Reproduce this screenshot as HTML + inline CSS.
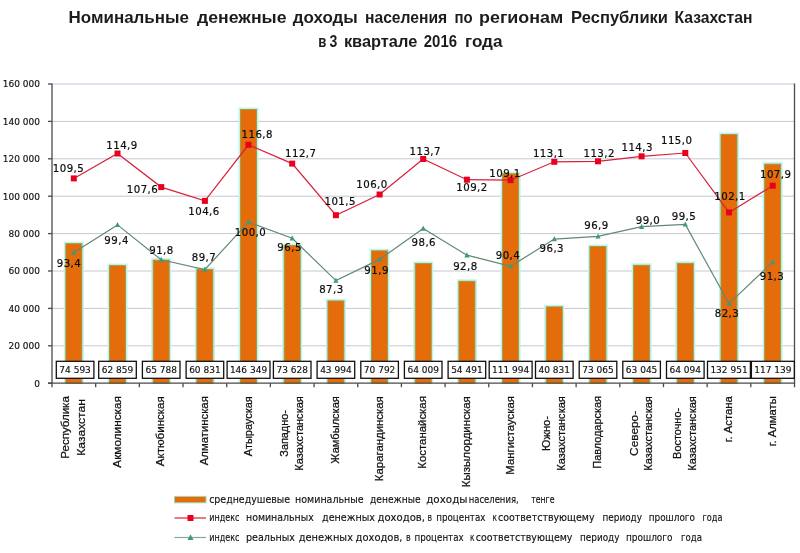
<!DOCTYPE html>
<html lang="ru"><head><meta charset="utf-8"><title>Номинальные денежные доходы населения</title>
<style>html,body{margin:0;padding:0;background:#fff}svg{display:block}</style></head>
<body>
<svg width="800" height="553" viewBox="0 0 800 553">
<rect x="0" y="0" width="800" height="553" fill="#ffffff"/>
<g font-family="Liberation Sans, DejaVu Sans, sans-serif" font-weight="bold" font-size="16.6" fill="#1c1c1c" transform="translate(-1,0)">
<text x="69.5" y="23.2" textLength="120.5" lengthAdjust="spacingAndGlyphs">Номинальные</text>
<text x="198.0" y="23.2" textLength="89.5" lengthAdjust="spacingAndGlyphs">денежные</text>
<text x="293.8" y="23.2" textLength="65.0" lengthAdjust="spacingAndGlyphs">доходы</text>
<text x="366.0" y="23.2" textLength="82.2" lengthAdjust="spacingAndGlyphs">населения</text>
<text x="455.4" y="23.2" textLength="18.2" lengthAdjust="spacingAndGlyphs">по</text>
<text x="480.0" y="23.2" textLength="84.3" lengthAdjust="spacingAndGlyphs">регионам</text>
<text x="572.1" y="23.2" textLength="96.9" lengthAdjust="spacingAndGlyphs">Республики</text>
<text x="675.5" y="23.2" textLength="78.0" lengthAdjust="spacingAndGlyphs">Казахстан</text>
<text x="319.2" y="46.5" textLength="8.1" lengthAdjust="spacingAndGlyphs">в</text>
<text x="330.6" y="46.5" textLength="7.8" lengthAdjust="spacingAndGlyphs">3</text>
<text x="344.9" y="46.5" textLength="73.4" lengthAdjust="spacingAndGlyphs">квартале</text>
<text x="424.8" y="46.5" textLength="33.2" lengthAdjust="spacingAndGlyphs">2016</text>
<text x="466.0" y="46.5" textLength="37.5" lengthAdjust="spacingAndGlyphs">года</text>
</g>
<g stroke="#c6c8d4" stroke-width="1">
<line x1="52.0" y1="345.80" x2="794.5" y2="345.80"/>
<line x1="52.0" y1="308.40" x2="794.5" y2="308.40"/>
<line x1="52.0" y1="271.00" x2="794.5" y2="271.00"/>
<line x1="52.0" y1="233.60" x2="794.5" y2="233.60"/>
<line x1="52.0" y1="196.20" x2="794.5" y2="196.20"/>
<line x1="52.0" y1="158.80" x2="794.5" y2="158.80"/>
<line x1="52.0" y1="121.40" x2="794.5" y2="121.40"/>
</g>
<line x1="52.0" y1="84.00" x2="794.5" y2="84.00" stroke="#c3c6e0" stroke-width="1.2"/>
<g>
<rect x="63.84" y="241.71" width="20.00" height="141.49" fill="#bff4ec"/>
<rect x="65.84" y="243.71" width="16.00" height="139.49" fill="#e46c0a" stroke="#a39a3c" stroke-width="0.9"/>
<rect x="107.51" y="263.65" width="20.00" height="119.55" fill="#bff4ec"/>
<rect x="109.51" y="265.65" width="16.00" height="117.55" fill="#e46c0a" stroke="#a39a3c" stroke-width="0.9"/>
<rect x="151.19" y="258.18" width="20.00" height="125.02" fill="#bff4ec"/>
<rect x="153.19" y="260.18" width="16.00" height="123.02" fill="#e46c0a" stroke="#a39a3c" stroke-width="0.9"/>
<rect x="194.87" y="267.45" width="20.00" height="115.75" fill="#bff4ec"/>
<rect x="196.87" y="269.45" width="16.00" height="113.75" fill="#e46c0a" stroke="#a39a3c" stroke-width="0.9"/>
<rect x="238.54" y="107.53" width="20.00" height="275.67" fill="#bff4ec"/>
<rect x="240.54" y="109.53" width="16.00" height="273.67" fill="#e46c0a" stroke="#a39a3c" stroke-width="0.9"/>
<rect x="282.22" y="243.52" width="20.00" height="139.68" fill="#bff4ec"/>
<rect x="284.22" y="245.52" width="16.00" height="137.68" fill="#e46c0a" stroke="#a39a3c" stroke-width="0.9"/>
<rect x="325.90" y="298.93" width="20.00" height="84.27" fill="#bff4ec"/>
<rect x="327.90" y="300.93" width="16.00" height="82.27" fill="#e46c0a" stroke="#a39a3c" stroke-width="0.9"/>
<rect x="369.57" y="248.82" width="20.00" height="134.38" fill="#bff4ec"/>
<rect x="371.57" y="250.82" width="16.00" height="132.38" fill="#e46c0a" stroke="#a39a3c" stroke-width="0.9"/>
<rect x="413.25" y="261.50" width="20.00" height="121.70" fill="#bff4ec"/>
<rect x="415.25" y="263.50" width="16.00" height="119.70" fill="#e46c0a" stroke="#a39a3c" stroke-width="0.9"/>
<rect x="456.93" y="279.30" width="20.00" height="103.90" fill="#bff4ec"/>
<rect x="458.93" y="281.30" width="16.00" height="101.90" fill="#e46c0a" stroke="#a39a3c" stroke-width="0.9"/>
<rect x="500.60" y="171.77" width="20.00" height="211.43" fill="#bff4ec"/>
<rect x="502.60" y="173.77" width="16.00" height="209.43" fill="#e46c0a" stroke="#a39a3c" stroke-width="0.9"/>
<rect x="544.28" y="304.85" width="20.00" height="78.35" fill="#bff4ec"/>
<rect x="546.28" y="306.85" width="16.00" height="76.35" fill="#e46c0a" stroke="#a39a3c" stroke-width="0.9"/>
<rect x="587.96" y="244.57" width="20.00" height="138.63" fill="#bff4ec"/>
<rect x="589.96" y="246.57" width="16.00" height="136.63" fill="#e46c0a" stroke="#a39a3c" stroke-width="0.9"/>
<rect x="631.63" y="263.31" width="20.00" height="119.89" fill="#bff4ec"/>
<rect x="633.63" y="265.31" width="16.00" height="117.89" fill="#e46c0a" stroke="#a39a3c" stroke-width="0.9"/>
<rect x="675.31" y="261.34" width="20.00" height="121.86" fill="#bff4ec"/>
<rect x="677.31" y="263.34" width="16.00" height="119.86" fill="#e46c0a" stroke="#a39a3c" stroke-width="0.9"/>
<rect x="718.99" y="132.58" width="20.00" height="250.62" fill="#bff4ec"/>
<rect x="720.99" y="134.58" width="16.00" height="248.62" fill="#e46c0a" stroke="#a39a3c" stroke-width="0.9"/>
<rect x="762.66" y="162.15" width="20.00" height="221.05" fill="#bff4ec"/>
<rect x="764.66" y="164.15" width="16.00" height="219.05" fill="#e46c0a" stroke="#a39a3c" stroke-width="0.9"/>
</g>
<g stroke="#4a4a4a" stroke-width="1.3">
<line x1="52.0" y1="83.5" x2="52.0" y2="387.2"/>
<line x1="794.5" y1="83.5" x2="794.5" y2="387.2"/>
<line x1="48.0" y1="383.2" x2="795.1" y2="383.2"/>
<line x1="48.0" y1="383.20" x2="52.0" y2="383.20"/>
<line x1="48.0" y1="345.80" x2="52.0" y2="345.80"/>
<line x1="48.0" y1="308.40" x2="52.0" y2="308.40"/>
<line x1="48.0" y1="271.00" x2="52.0" y2="271.00"/>
<line x1="48.0" y1="233.60" x2="52.0" y2="233.60"/>
<line x1="48.0" y1="196.20" x2="52.0" y2="196.20"/>
<line x1="48.0" y1="158.80" x2="52.0" y2="158.80"/>
<line x1="48.0" y1="121.40" x2="52.0" y2="121.40"/>
<line x1="48.0" y1="84.00" x2="52.0" y2="84.00"/>
<line x1="95.68" y1="383.2" x2="95.68" y2="387.2"/>
<line x1="139.35" y1="383.2" x2="139.35" y2="387.2"/>
<line x1="183.03" y1="383.2" x2="183.03" y2="387.2"/>
<line x1="226.71" y1="383.2" x2="226.71" y2="387.2"/>
<line x1="270.38" y1="383.2" x2="270.38" y2="387.2"/>
<line x1="314.06" y1="383.2" x2="314.06" y2="387.2"/>
<line x1="357.74" y1="383.2" x2="357.74" y2="387.2"/>
<line x1="401.41" y1="383.2" x2="401.41" y2="387.2"/>
<line x1="445.09" y1="383.2" x2="445.09" y2="387.2"/>
<line x1="488.76" y1="383.2" x2="488.76" y2="387.2"/>
<line x1="532.44" y1="383.2" x2="532.44" y2="387.2"/>
<line x1="576.12" y1="383.2" x2="576.12" y2="387.2"/>
<line x1="619.79" y1="383.2" x2="619.79" y2="387.2"/>
<line x1="663.47" y1="383.2" x2="663.47" y2="387.2"/>
<line x1="707.15" y1="383.2" x2="707.15" y2="387.2"/>
<line x1="750.82" y1="383.2" x2="750.82" y2="387.2"/>
</g>
<g font-family="DejaVu Sans, Liberation Sans, sans-serif" font-size="9" fill="#111" stroke="#111" stroke-width="0.15" text-anchor="end">
<text x="40" y="386.5">0</text>
<text x="40" y="349.1">20 000</text>
<text x="40" y="311.7">40 000</text>
<text x="40" y="274.3">60 000</text>
<text x="40" y="236.9">80 000</text>
<text x="40" y="199.5">100 000</text>
<text x="40" y="162.1">120 000</text>
<text x="40" y="124.7">140 000</text>
<text x="40" y="87.3">160 000</text>
</g>
<polyline points="73.8,252.5 117.5,224.9 161.2,259.8 204.9,269.5 248.5,222.1 292.2,238.2 335.9,280.6 379.6,259.4 423.2,228.5 466.9,255.2 510.6,266.3 554.3,239.1 598.0,236.4 641.6,226.7 685.3,224.4 729.0,303.6 772.7,262.1" fill="none" stroke="#628877" stroke-width="1.2"/>
<g fill="#3f9a79">
<polygon points="73.8,249.5 76.4,254.7 71.2,254.7"/>
<polygon points="117.5,221.9 120.1,227.1 114.9,227.1"/>
<polygon points="161.2,256.8 163.8,262.0 158.6,262.0"/>
<polygon points="204.9,266.5 207.5,271.7 202.3,271.7"/>
<polygon points="248.5,219.1 251.1,224.3 245.9,224.3"/>
<polygon points="292.2,235.2 294.8,240.4 289.6,240.4"/>
<polygon points="335.9,277.6 338.5,282.8 333.3,282.8"/>
<polygon points="379.6,256.4 382.2,261.6 377.0,261.6"/>
<polygon points="423.2,225.5 425.9,230.7 420.6,230.7"/>
<polygon points="466.9,252.2 469.5,257.4 464.3,257.4"/>
<polygon points="510.6,263.3 513.2,268.5 508.0,268.5"/>
<polygon points="554.3,236.1 556.9,241.3 551.7,241.3"/>
<polygon points="598.0,233.4 600.6,238.6 595.4,238.6"/>
<polygon points="641.6,223.7 644.2,228.9 639.0,228.9"/>
<polygon points="685.3,221.4 687.9,226.6 682.7,226.6"/>
<polygon points="729.0,300.6 731.6,305.8 726.4,305.8"/>
<polygon points="772.7,259.1 775.3,264.3 770.1,264.3"/>
</g>
<polyline points="73.8,178.4 117.5,153.5 161.2,187.1 204.9,200.9 248.5,144.8 292.2,163.6 335.9,215.2 379.6,194.5 423.2,159.0 466.9,179.7 510.6,180.2 554.3,161.8 598.0,161.3 641.6,156.3 685.3,153.0 729.0,212.4 772.7,185.7" fill="none" stroke="#d8203a" stroke-width="1.2"/>
<g fill="#e9001f">
<rect x="70.8" y="175.4" width="6" height="6"/>
<rect x="114.5" y="150.5" width="6" height="6"/>
<rect x="158.2" y="184.1" width="6" height="6"/>
<rect x="201.9" y="197.9" width="6" height="6"/>
<rect x="245.5" y="141.8" width="6" height="6"/>
<rect x="289.2" y="160.6" width="6" height="6"/>
<rect x="332.9" y="212.2" width="6" height="6"/>
<rect x="376.6" y="191.5" width="6" height="6"/>
<rect x="420.2" y="156.0" width="6" height="6"/>
<rect x="463.9" y="176.7" width="6" height="6"/>
<rect x="507.6" y="177.2" width="6" height="6"/>
<rect x="551.3" y="158.8" width="6" height="6"/>
<rect x="595.0" y="158.3" width="6" height="6"/>
<rect x="638.6" y="153.3" width="6" height="6"/>
<rect x="682.3" y="150.0" width="6" height="6"/>
<rect x="726.0" y="209.4" width="6" height="6"/>
<rect x="769.7" y="182.7" width="6" height="6"/>
</g>
<g>
<rect x="56.3" y="361.3" width="37.6" height="17" fill="#ffffff" stroke="#111" stroke-width="1.3"/>
<rect x="98.7" y="361.3" width="37.6" height="17" fill="#ffffff" stroke="#111" stroke-width="1.3"/>
<rect x="142.4" y="361.3" width="37.6" height="17" fill="#ffffff" stroke="#111" stroke-width="1.3"/>
<rect x="186.1" y="361.3" width="37.6" height="17" fill="#ffffff" stroke="#111" stroke-width="1.3"/>
<rect x="227.1" y="361.3" width="42.9" height="17" fill="#ffffff" stroke="#111" stroke-width="1.3"/>
<rect x="273.4" y="361.3" width="37.6" height="17" fill="#ffffff" stroke="#111" stroke-width="1.3"/>
<rect x="317.1" y="361.3" width="37.6" height="17" fill="#ffffff" stroke="#111" stroke-width="1.3"/>
<rect x="360.8" y="361.3" width="37.6" height="17" fill="#ffffff" stroke="#111" stroke-width="1.3"/>
<rect x="404.4" y="361.3" width="37.6" height="17" fill="#ffffff" stroke="#111" stroke-width="1.3"/>
<rect x="448.1" y="361.3" width="37.6" height="17" fill="#ffffff" stroke="#111" stroke-width="1.3"/>
<rect x="489.2" y="361.3" width="42.9" height="17" fill="#ffffff" stroke="#111" stroke-width="1.3"/>
<rect x="535.5" y="361.3" width="37.6" height="17" fill="#ffffff" stroke="#111" stroke-width="1.3"/>
<rect x="579.2" y="361.3" width="37.6" height="17" fill="#ffffff" stroke="#111" stroke-width="1.3"/>
<rect x="622.8" y="361.3" width="37.6" height="17" fill="#ffffff" stroke="#111" stroke-width="1.3"/>
<rect x="666.5" y="361.3" width="37.6" height="17" fill="#ffffff" stroke="#111" stroke-width="1.3"/>
<rect x="707.5" y="361.3" width="42.9" height="17" fill="#ffffff" stroke="#111" stroke-width="1.3"/>
<rect x="751.4" y="361.3" width="42.9" height="17" fill="#ffffff" stroke="#111" stroke-width="1.3"/>
</g>
<g font-family="DejaVu Sans, Liberation Sans, sans-serif" font-size="9" fill="#111" stroke="#111" stroke-width="0.15" text-anchor="middle">
<text x="75.1" y="372.6">74 593</text>
<text x="117.5" y="372.6">62 859</text>
<text x="161.2" y="372.6">65 788</text>
<text x="204.9" y="372.6">60 831</text>
<text x="248.5" y="372.6">146 349</text>
<text x="292.2" y="372.6">73 628</text>
<text x="335.9" y="372.6">43 994</text>
<text x="379.6" y="372.6">70 792</text>
<text x="423.2" y="372.6">64 009</text>
<text x="466.9" y="372.6">54 491</text>
<text x="510.6" y="372.6">111 994</text>
<text x="554.3" y="372.6">40 831</text>
<text x="598.0" y="372.6">73 065</text>
<text x="641.6" y="372.6">63 045</text>
<text x="685.3" y="372.6">64 094</text>
<text x="729.0" y="372.6">132 951</text>
<text x="772.8" y="372.6">117 139</text>
</g>
<g font-family="DejaVu Sans, Liberation Sans, sans-serif" font-size="10.2" letter-spacing="0.45" fill="#0c0c0c" stroke="#0c0c0c" stroke-width="0.2" text-anchor="middle">
<text x="68.5" y="172.0">109,5</text>
<text x="122.0" y="149.0">114,9</text>
<text x="142.5" y="192.5">107,6</text>
<text x="204.0" y="214.5">104,6</text>
<text x="257.3" y="138.0">116,8</text>
<text x="300.8" y="157.0">112,7</text>
<text x="340.2" y="205.0">101,5</text>
<text x="372.0" y="187.5">106,0</text>
<text x="425.3" y="154.5">113,7</text>
<text x="472.0" y="190.5">109,2</text>
<text x="505.0" y="176.5">109,1</text>
<text x="548.6" y="157.0">113,1</text>
<text x="599.2" y="157.0">113,2</text>
<text x="637.2" y="150.5">114,3</text>
<text x="676.7" y="143.5">115,0</text>
<text x="730.0" y="200.0">102,1</text>
<text x="775.7" y="178.0">107,9</text>
<text x="69.0" y="266.5">93,4</text>
<text x="116.6" y="243.5">99,4</text>
<text x="161.5" y="253.5">91,8</text>
<text x="204.0" y="260.5">89,7</text>
<text x="250.5" y="235.8">100,0</text>
<text x="289.6" y="250.6">96,5</text>
<text x="331.4" y="293.0">87,3</text>
<text x="376.6" y="274.0">91,9</text>
<text x="423.8" y="245.5">98,6</text>
<text x="465.4" y="269.6">92,8</text>
<text x="508.0" y="259.0">90,4</text>
<text x="551.8" y="252.0">96,3</text>
<text x="596.5" y="229.0">96,9</text>
<text x="648.0" y="224.0">99,0</text>
<text x="684.0" y="219.5">99,5</text>
<text x="727.0" y="316.5">82,3</text>
<text x="772.0" y="280.0">91,3</text>
</g>
<g font-family="Liberation Sans, DejaVu Sans, sans-serif" font-size="11.5" fill="#111" stroke="#111" stroke-width="0.25" text-anchor="middle">
<text transform="translate(69.0,427.4) rotate(-90)" textLength="62.5" lengthAdjust="spacingAndGlyphs">Республика</text>
<text transform="translate(85.0,427.4) rotate(-90)" textLength="56.5" lengthAdjust="spacingAndGlyphs">Казахстан</text>
<text transform="translate(120.7,431.9) rotate(-90)" textLength="71.5" lengthAdjust="spacingAndGlyphs">Акмолинская</text>
<text transform="translate(164.4,431.2) rotate(-90)" textLength="70.0" lengthAdjust="spacingAndGlyphs">Актюбинская</text>
<text transform="translate(208.1,430.7) rotate(-90)" textLength="69.0" lengthAdjust="spacingAndGlyphs">Алматинская</text>
<text transform="translate(251.7,426.2) rotate(-90)" textLength="60.0" lengthAdjust="spacingAndGlyphs">Атырауская</text>
<text transform="translate(288.1,433.4) rotate(-90)" textLength="46.5" lengthAdjust="spacingAndGlyphs">Западно-</text>
<text transform="translate(302.7,433.4) rotate(-90)" textLength="74.5" lengthAdjust="spacingAndGlyphs">Казахстанская</text>
<text transform="translate(339.1,429.9) rotate(-90)" textLength="67.5" lengthAdjust="spacingAndGlyphs">Жамбылская</text>
<text transform="translate(382.8,438.7) rotate(-90)" textLength="85.0" lengthAdjust="spacingAndGlyphs">Карагандинская</text>
<text transform="translate(426.4,432.4) rotate(-90)" textLength="72.5" lengthAdjust="spacingAndGlyphs">Костанайская</text>
<text transform="translate(470.1,441.7) rotate(-90)" textLength="91.0" lengthAdjust="spacingAndGlyphs">Кызылординская</text>
<text transform="translate(513.8,435.4) rotate(-90)" textLength="78.5" lengthAdjust="spacingAndGlyphs">Мангистауская</text>
<text transform="translate(550.2,433.4) rotate(-90)" textLength="35.0" lengthAdjust="spacingAndGlyphs">Южно-</text>
<text transform="translate(564.8,433.4) rotate(-90)" textLength="74.5" lengthAdjust="spacingAndGlyphs">Казахстанская</text>
<text transform="translate(601.2,432.4) rotate(-90)" textLength="72.5" lengthAdjust="spacingAndGlyphs">Павлодарская</text>
<text transform="translate(637.5,433.4) rotate(-90)" textLength="45.0" lengthAdjust="spacingAndGlyphs">Северо-</text>
<text transform="translate(652.1,433.4) rotate(-90)" textLength="74.5" lengthAdjust="spacingAndGlyphs">Казахстанская</text>
<text transform="translate(681.2,433.4) rotate(-90)" textLength="51.0" lengthAdjust="spacingAndGlyphs">Восточно-</text>
<text transform="translate(695.8,433.4) rotate(-90)" textLength="74.5" lengthAdjust="spacingAndGlyphs">Казахстанская</text>
<text transform="translate(732.2,419.2) rotate(-90)" textLength="46.0" lengthAdjust="spacingAndGlyphs">г. Астана</text>
<text transform="translate(775.9,421.2) rotate(-90)" textLength="50.0" lengthAdjust="spacingAndGlyphs">г. Алматы</text>
</g>
<rect x="174.5" y="496.4" width="31.5" height="6.4" fill="#e46c0a" stroke="#9fd9b8" stroke-width="1"/>
<line x1="174.5" y1="518" x2="206" y2="518" stroke="#d8203a" stroke-width="1.2"/>
<rect x="187.5" y="515" width="6" height="6" fill="#e9001f"/>
<line x1="174.5" y1="537.5" x2="206" y2="537.5" stroke="#86a899" stroke-width="1.2"/>
<polygon points="190.5,534.3 193.5,540.1 187.5,540.1" fill="#3f9a79"/>
<g font-family="DejaVu Sans, Liberation Sans, sans-serif" font-size="11" fill="#111" stroke="#111" stroke-width="0.15">
<text x="209.2" y="503.2" textLength="80.8" lengthAdjust="spacingAndGlyphs">среднедушевые</text>
<text x="295.0" y="503.2" textLength="68.7" lengthAdjust="spacingAndGlyphs">номинальные</text>
<text x="370.0" y="503.2" textLength="50.5" lengthAdjust="spacingAndGlyphs">денежные</text>
<text x="426.2" y="503.2" textLength="41.3" lengthAdjust="spacingAndGlyphs">доходы</text>
<text x="468.7" y="503.2" textLength="50.0" lengthAdjust="spacingAndGlyphs">населения,</text>
<text x="531.2" y="503.2" textLength="23.3" lengthAdjust="spacingAndGlyphs">тенге</text>
<text x="209.2" y="521.2" textLength="30.3" lengthAdjust="spacingAndGlyphs">индекс</text>
<text x="246.0" y="521.2" textLength="67.7" lengthAdjust="spacingAndGlyphs">номинальных</text>
<text x="322.0" y="521.2" textLength="53.0" lengthAdjust="spacingAndGlyphs">денежных</text>
<text x="377.5" y="521.2" textLength="47.5" lengthAdjust="spacingAndGlyphs">доходов,</text>
<text x="427.5" y="521.2" textLength="4.5" lengthAdjust="spacingAndGlyphs">в</text>
<text x="436.2" y="521.2" textLength="49.3" lengthAdjust="spacingAndGlyphs">процентах</text>
<text x="492.5" y="521.2" textLength="4.5" lengthAdjust="spacingAndGlyphs">к</text>
<text x="498.0" y="521.2" textLength="96.5" lengthAdjust="spacingAndGlyphs">соответствующему</text>
<text x="602.5" y="521.2" textLength="39.5" lengthAdjust="spacingAndGlyphs">периоду</text>
<text x="648.7" y="521.2" textLength="46.3" lengthAdjust="spacingAndGlyphs">прошлого</text>
<text x="702.5" y="521.2" textLength="20.0" lengthAdjust="spacingAndGlyphs">года</text>
<text x="209.2" y="540.6" textLength="30.3" lengthAdjust="spacingAndGlyphs">индекс</text>
<text x="246.0" y="540.6" textLength="49.0" lengthAdjust="spacingAndGlyphs">реальных</text>
<text x="298.7" y="540.6" textLength="54.3" lengthAdjust="spacingAndGlyphs">денежных</text>
<text x="355.5" y="540.6" textLength="47.0" lengthAdjust="spacingAndGlyphs">доходов,</text>
<text x="406.0" y="540.6" textLength="4.7" lengthAdjust="spacingAndGlyphs">в</text>
<text x="414.5" y="540.6" textLength="49.2" lengthAdjust="spacingAndGlyphs">процентах</text>
<text x="470.0" y="540.6" textLength="4.5" lengthAdjust="spacingAndGlyphs">к</text>
<text x="475.7" y="540.6" textLength="96.8" lengthAdjust="spacingAndGlyphs">соответствующему</text>
<text x="580.0" y="540.6" textLength="39.5" lengthAdjust="spacingAndGlyphs">периоду</text>
<text x="626.0" y="540.6" textLength="46.5" lengthAdjust="spacingAndGlyphs">прошлого</text>
<text x="681.0" y="540.6" textLength="21.0" lengthAdjust="spacingAndGlyphs">года</text>
</g>
</svg>
</body></html>
